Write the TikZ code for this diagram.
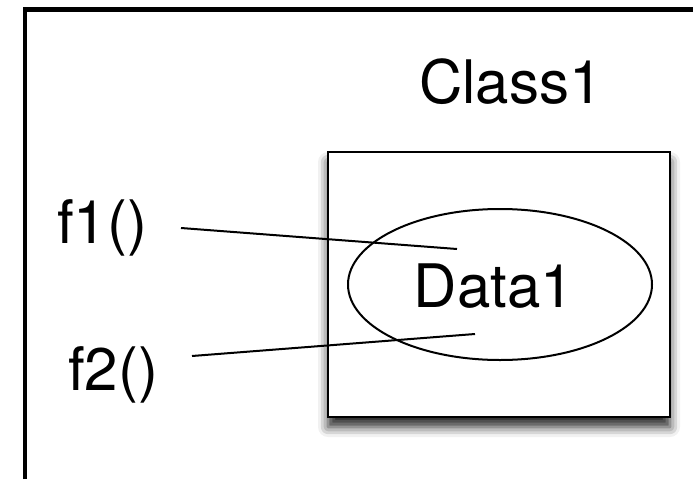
\documentclass[tikz,border=0pt]{standalone}
\usepackage{fontspec}
\setmainfont{TeX Gyre Heros}
\usetikzlibrary{shadows.blur,shapes.geometric}
\begin{document}
\begin{tikzpicture}[x=1pt,y=-1pt,
  lbl/.style={font=\fontsize{60}{72}\selectfont, anchor=base, inner sep=0pt},
  frame/.style={line width=4.5pt},
  classbox/.style={draw, line width=2.5pt, fill=white,
    blur shadow={shadow xshift=0pt, shadow yshift=-10pt, shadow blur radius=10pt, shadow opacity=85}},
  dataell/.style={draw, line width=2pt},
  conn/.style={line width=2pt}]
\useasboundingbox (0,0) rectangle (693,479);
\draw[frame] (25,479) -- (25,9.5) -- (693,9.5);
\node[lbl] (class) at (511,103) {Class1};
\node[classbox, minimum width=342pt, minimum height=265pt, inner sep=0pt] (box) at (499,284.5) {};
\draw[dataell] (500,284.5) ellipse [x radius=152pt, y radius=75.5pt];
\node[lbl] (data) at (494,307) {Data1};
\node[lbl] (f1) at (102,243) {f1()};
\node[lbl] (f2) at (113,390) {f2()};
\coordinate (e1) at (457,249);
\coordinate (e2) at (475,334);
\coordinate (s1) at (181,228);
\coordinate (s2) at (192,356);
\draw[conn] (s1) -- (e1);
\draw[conn] (s2) -- (e2);
\end{tikzpicture}
\end{document}
